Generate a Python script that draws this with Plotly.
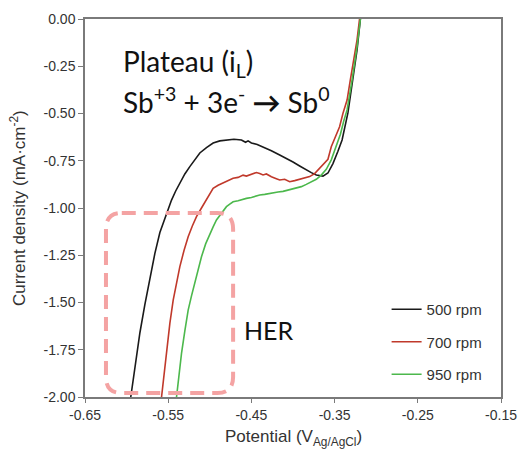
import plotly.graph_objects as go

# Polarisation curves at three rotation speeds (V vs Ag/AgCl, mA/cm2)
v500 = [-0.595, -0.590, -0.584, -0.578, -0.572, -0.566, -0.560, -0.553, -0.546, -0.541,
        -0.536, -0.530, -0.524, -0.518, -0.512, -0.504, -0.496, -0.488, -0.480, -0.471,
        -0.462, -0.457, -0.454, -0.450, -0.443, -0.436, -0.426, -0.416, -0.408, -0.400,
        -0.392, -0.384, -0.378, -0.372, -0.364, -0.358, -0.352, -0.346, -0.341, -0.334,
        -0.328, -0.323, -0.319]
i500 = [-2.00, -1.84, -1.66, -1.51, -1.365, -1.24, -1.13, -1.04, -0.958, -0.91,
        -0.869, -0.82, -0.781, -0.742, -0.709, -0.680, -0.656, -0.645, -0.640, -0.636,
        -0.640, -0.652, -0.645, -0.656, -0.664, -0.677, -0.697, -0.720, -0.737, -0.757,
        -0.778, -0.799, -0.813, -0.825, -0.831, -0.815, -0.765, -0.70, -0.64, -0.497,
        -0.323, -0.164, 0.0]

v700 = [-0.558, -0.552, -0.548, -0.544, -0.540, -0.536, -0.531, -0.526, -0.521, -0.516,
        -0.510, -0.504, -0.500, -0.496, -0.490, -0.484, -0.478, -0.472, -0.466, -0.460,
        -0.456, -0.450, -0.444, -0.440, -0.436, -0.432, -0.426, -0.420, -0.416, -0.410,
        -0.404, -0.398, -0.392, -0.386, -0.380, -0.374, -0.368, -0.362, -0.358, -0.354,
        -0.349, -0.344, -0.340, -0.335, -0.331, -0.327, -0.323, -0.320]
i700 = [-2.00, -1.751, -1.61, -1.487, -1.39, -1.31, -1.225, -1.152, -1.095, -1.046,
        -1.00, -0.958, -0.925, -0.896, -0.88, -0.869, -0.855, -0.843, -0.838, -0.826,
        -0.831, -0.822, -0.812, -0.817, -0.825, -0.820, -0.835, -0.845, -0.852, -0.848,
        -0.861, -0.855, -0.848, -0.842, -0.834, -0.818, -0.790, -0.762, -0.742, -0.676,
        -0.62, -0.570, -0.50, -0.429, -0.32, -0.217, -0.11, 0.0]

v950 = [-0.540, -0.534, -0.530, -0.526, -0.522, -0.518, -0.514, -0.510, -0.505, -0.500,
        -0.496, -0.492, -0.488, -0.484, -0.480, -0.476, -0.472, -0.466, -0.460, -0.456,
        -0.450, -0.445, -0.440, -0.434, -0.428, -0.424, -0.418, -0.412, -0.408, -0.402,
        -0.396, -0.390, -0.384, -0.378, -0.372, -0.366, -0.360, -0.354, -0.348, -0.343,
        -0.339, -0.335, -0.329, -0.323, -0.319]
i950 = [-2.00, -1.769, -1.65, -1.540, -1.465, -1.398, -1.33, -1.258, -1.19, -1.134,
        -1.10, -1.063, -1.04, -1.02, -0.993, -0.98, -0.967, -0.962, -0.952, -0.949,
        -0.944, -0.936, -0.931, -0.928, -0.922, -0.919, -0.915, -0.912, -0.908, -0.902,
        -0.896, -0.887, -0.875, -0.862, -0.848, -0.826, -0.795, -0.745, -0.676, -0.61,
        -0.54, -0.481, -0.323, -0.146, 0.0]

xTicks = [-0.65, -0.55, -0.45, -0.35, -0.25, -0.15]
xTickText = ["-0.65", "-0.55", "-0.45", "-0.35", "-0.25", "-0.15"]
yTicks = [0, -0.25, -0.5, -0.75, -1.0, -1.25, -1.5, -1.75, -2.0]
yTickText = ["0.00", "-0.25", "-0.50", "-0.75", "-1.00", "-1.25", "-1.50", "-1.75", "-2.00"]

series = [
    ("500 rpm", v500, i500, "#1a1a1a"),
    ("700 rpm", v700, i700, "#c0392b"),
    ("950 rpm", v950, i950, "#4cb84c"),
]

fontMain = "Liberation Sans, Arial, sans-serif"
fontNote = "Lato, Open Sans, sans-serif"
axisCol = "#7a7a7a"

fig = go.Figure()
for name, v, i, col in series:
    fig.add_trace(
        go.Scatter(x=v, y=i, mode="lines", name=name, legendgroup=name,
                   line=dict(color=col, width=1.6))
    )

# HER region: rounded dashed box
x0, x1, y0, y1 = -0.6248, -0.472, -1.979, -1.026
rx, ry = 0.019, 0.085
path = (
    f"M {x0 + rx},{y1} L {x1 - rx},{y1} Q {x1},{y1} {x1},{y1 - ry} "
    f"L {x1},{y0 + ry} Q {x1},{y0} {x1 - rx},{y0} "
    f"L {x0 + rx},{y0} Q {x0},{y0} {x0},{y0 + ry} "
    f"L {x0},{y1 - ry} Q {x0},{y1} {x0 + rx},{y1} Z"
)
fig.add_shape(type="path", path=path, xref="x", yref="y", layer="above",
              line=dict(color="#f4a3a3", width=4, dash="14px,8px"))

fig.add_annotation(text="Plateau (i<sub>L</sub>)", x=-0.6065, y=-0.235, xref="x", yref="y",
                   xanchor="left", yanchor="middle", showarrow=False,
                   font=dict(family=fontNote, size=28, color="#111"))
fig.add_annotation(text="Sb<sup>+3</sup> + 3e<sup>-</sup> <b>\u2192</b> Sb<sup>0</sup>", x=-0.6065, y=-0.43,
                   xref="x", yref="y", xanchor="left", yanchor="middle", showarrow=False,
                   font=dict(family=fontNote, size=28, color="#111"))
fig.add_annotation(text="HER", x=-0.461, y=-1.645, xref="x", yref="y",
                   xanchor="left", yanchor="middle", showarrow=False,
                   font=dict(family=fontNote, size=25, color="#111"))

# axis titles placed by hand so the plot area keeps its margins
fig.add_annotation(text="Current density (mA\u00b7cm<sup>-2</sup>)", x=-0.161, y=0.5,
                   xref="paper", yref="paper", xanchor="center", yanchor="middle",
                   showarrow=False, textangle=-90, font=dict(size=17, color="#333"))
fig.add_annotation(text="Potential (V<sub>Ag/AgCl</sub>)", x=0.502, y=-0.108,
                   xref="paper", yref="paper", xanchor="center", yanchor="middle",
                   showarrow=False, font=dict(size=17, color="#333"))

fig.update_layout(
    width=520, height=450,
    margin=dict(l=85, r=19, t=19, b=53, autoexpand=False),
    paper_bgcolor="white", plot_bgcolor="white",
    font=dict(family=fontMain, size=14, color="#333"),
    showlegend=True,
    legend=dict(x=0.725, y=0.275, xanchor="left", yanchor="top", bgcolor="rgba(0,0,0,0)",
                itemwidth=30, tracegroupgap=10, font=dict(size=15, color="#333")),
)
fig.update_xaxes(
    range=[-0.65, -0.15], tickvals=xTicks, ticktext=xTickText, automargin=False,
    showgrid=False, zeroline=False, showline=True, linecolor=axisCol, linewidth=1.5,
    mirror=True, ticks="outside", ticklen=4, tickcolor=axisCol,
)
fig.update_yaxes(
    range=[-2.0, 0.0], tickvals=yTicks, ticktext=yTickText, automargin=False,
    showgrid=False, zeroline=False, showline=True, linecolor=axisCol, linewidth=1.5,
    mirror=True, ticks="outside", ticklen=5, tickcolor=axisCol,
)

# drop the default 8px page margin so the 520x450 figure fills the window exactly
fig.write_html("out.html", config={"displayModeBar": False},
               post_script="document.body.style.margin='0';")
